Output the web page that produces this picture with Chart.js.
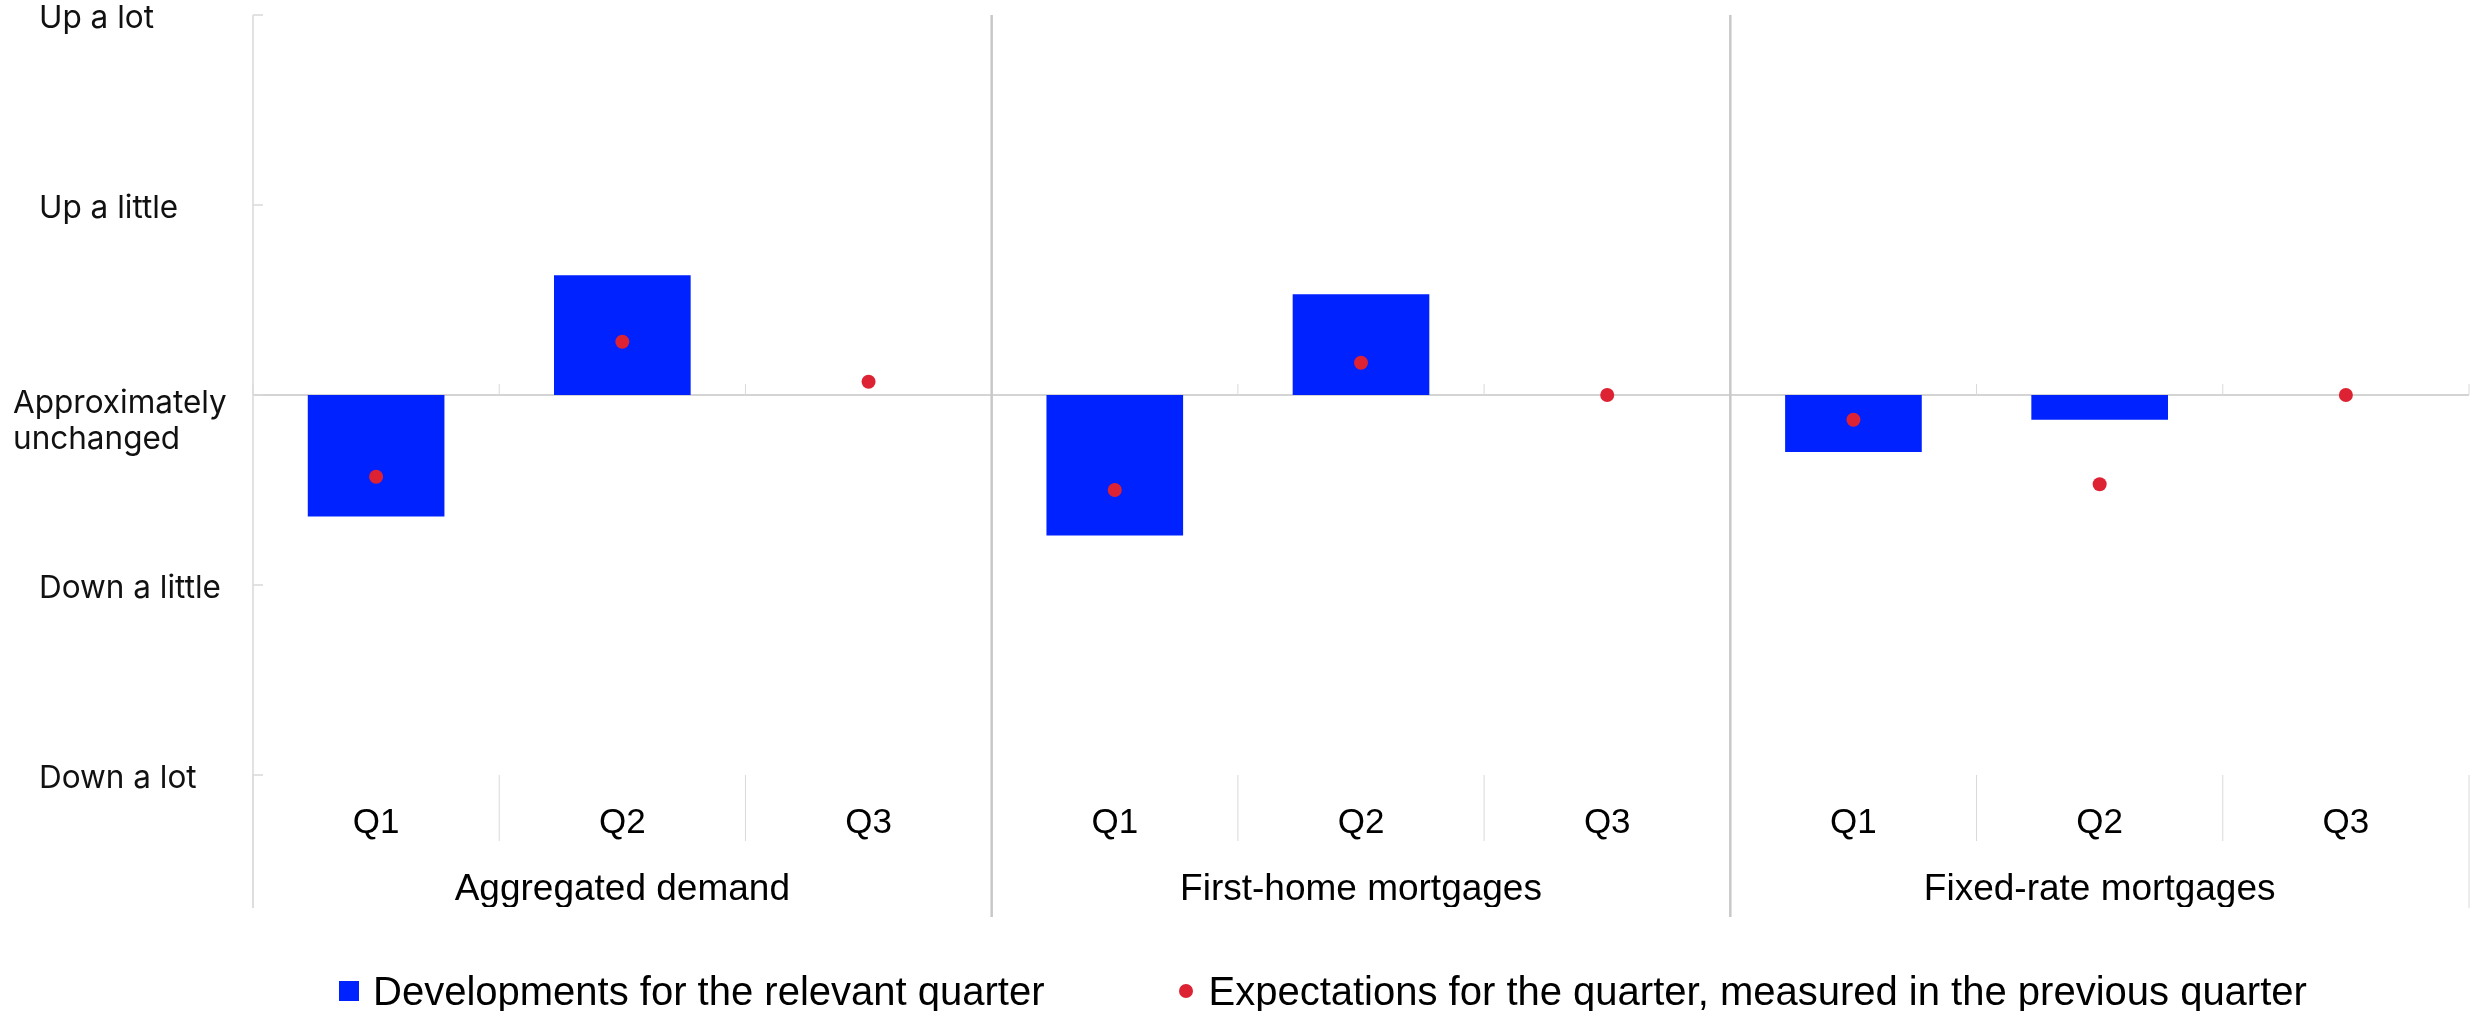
<!DOCTYPE html>
<html>
<head>
<meta charset="utf-8">
<script src="https://cdn.jsdelivr.net/npm/chart.js@4/dist/chart.umd.min.js"></script>
<style>
  html, body { margin: 0; padding: 0; background: #fff; overflow: hidden; }
  #wrap { position: relative; width: 2484px; height: 1011px; }
  #legend {
    position: absolute; left: 339px; top: 971px;
    display: flex; align-items: center; height: 40px;
    font-family: "Liberation Sans", Arial, sans-serif; font-size: 40px; line-height: 40px; color: #000;
  }
  .item { display: flex; align-items: center; }
  .sq { width: 20px; height: 20px; background: #0022ff; margin-right: 14px; }
  .dot { width: 14px; height: 14px; border-radius: 50%; background: #dd2333; margin-right: 15px; }
</style>
</head>
<body>
<div id="wrap">
  <canvas id="chart" width="2484" height="1011"></canvas>
  <div id="legend">
    <div class="item" style="margin-right:135px"><span class="sq"></span><span>Developments for the relevant quarter</span></div>
    <div class="item"><span class="dot"></span><span>Expectations for the quarter, measured in the previous quarter</span></div>
  </div>
</div>
<script>
"use strict";

// Categories
const quarters = ['Q1', 'Q2', 'Q3', 'Q1', 'Q2', 'Q3', 'Q1', 'Q2', 'Q3'];
const groups = ['Aggregated demand', 'First-home mortgages', 'Fixed-rate mortgages'];

// Series (scale: -2 = down a lot ... 2 = up a lot)
const developments = [-0.64, 0.63, null, -0.74, 0.53, null, -0.30, -0.13, null];
const expectations = [-0.43, 0.28, 0.07, -0.50, 0.17, 0, -0.13, -0.47, 0];

// Y axis levels
const levelValues = [-2, -1, 0, 1, 2];
const levelLabels = ['Down a lot', 'Down a little', ['Approximately', 'unchanged'], 'Up a little', 'Up a lot'];

// Draws the axis lines, tick marks and group dividers
const separatorPlugin = {
    id: 'separators',
    beforeDatasetsDraw(chart) {
        const { ctx, chartArea: area, scales: { x, y } } = chart;
        const zeroY = y.getPixelForValue(0);
        const line = (x1, y1, x2, y2) => {
            ctx.beginPath();
            ctx.moveTo(x1, y1);
            ctx.lineTo(x2, y2);
            ctx.stroke();
        };
        ctx.save();
        ctx.strokeStyle = '#d4d4d4';
        ctx.lineWidth = 2;
        line(area.left, zeroY, area.right, zeroY);
        ctx.strokeStyle = '#d9d9d9';
        ctx.lineWidth = 1.5;
        line(area.left, area.top, area.left, area.bottom + 133);
        levelValues.forEach(v => {
            const py = y.getPixelForValue(v);
            line(area.left, py, area.left + 10, py);
        });
        ctx.lineWidth = 1;
        for (let i = 0; i <= quarters.length; i++) {
            const px = x.getPixelForValue(i - 0.5);
            const groupEdge = i % 3 === 0;
            line(px, zeroY - 11, px, zeroY);
            line(px, area.bottom, px, area.bottom + (groupEdge ? 133 : 66));
        }
        ctx.strokeStyle = '#c8c8c8';
        ctx.lineWidth = 2.5;
        for (let i = 3; i < quarters.length; i += 3) {
            const px = x.getPixelForValue(i - 0.5);
            line(px, area.top, px, area.bottom + 142);
        }
        ctx.restore();
    }
};

// Y labels, left aligned
const yLabelPlugin = {
    id: 'yLabels',
    afterDraw(chart) {
        const { ctx, scales: { y } } = chart;
        ctx.save();
        ctx.font = '31.5px Inter';
        ctx.fillStyle = '#111';
        ctx.textBaseline = 'alphabetic';
        levelValues.forEach((v, i) => {
            const lines = [].concat(levelLabels[i]);
            const py = y.getPixelForValue(v);
            const multi = lines.length > 1;
            const left = multi ? 13 : 39;
            const first = py + 13 + (multi ? 5 : 0);
            lines.forEach((t, j) => ctx.fillText(t, left, first + j * 36));
        });
        ctx.restore();
    }
};

const ctx = document.getElementById('chart').getContext('2d');

new Chart(ctx, {
    type: 'bar',
    data: {
        labels: quarters,
        datasets: [
            {
                type: 'line',
                label: 'Expectations for the quarter, measured in the previous quarter',
                data: expectations,
                showLine: false,
                pointRadius: 7,
                pointHoverRadius: 7,
                pointBackgroundColor: '#dd2333',
                pointBorderWidth: 0,
                order: 0
            },
            {
                type: 'bar',
                label: 'Developments for the relevant quarter',
                data: developments,
                backgroundColor: '#0022ff',
                borderWidth: 0,
                barPercentage: 0.555,
                categoryPercentage: 1.0,
                order: 1
            }
        ]
    },
    options: {
        responsive: false,
        animation: false,
        devicePixelRatio: 1,
        layout: { padding: { top: 15, right: 15, bottom: 104, left: 0 } },
        plugins: {
            legend: { display: false },
            tooltip: { enabled: false }
        },
        scales: {
            x: {
                type: 'category',
                offset: true,
                grid: { display: false, drawTicks: false },
                border: { display: false },
                ticks: {
                    color: '#000',
                    padding: 27,
                    autoSkip: false,
                    maxRotation: 0,
                    font: { family: '"Liberation Sans", Arial, sans-serif', size: 35 }
                },
                afterFit(scale) { scale.height = 66; }
            },
            x2: {
                type: 'category',
                labels: groups,
                offset: true,
                position: 'bottom',
                grid: { display: false, drawTicks: false },
                border: { display: false },
                ticks: {
                    color: '#000',
                    padding: 27,
                    autoSkip: false,
                    maxRotation: 0,
                    font: { family: '"Liberation Sans", Arial, sans-serif', size: 37 }
                },
                afterFit(scale) { scale.height = 66; }
            },
            y: {
                min: -2,
                max: 2,
                ticks: { display: false, stepSize: 1 },
                grid: { display: false, drawTicks: false },
                border: { display: false },
                afterFit(scale) { scale.width = 253; }
            }
        }
    },
    plugins: [separatorPlugin, yLabelPlugin]
});
</script>
</body>
</html>
